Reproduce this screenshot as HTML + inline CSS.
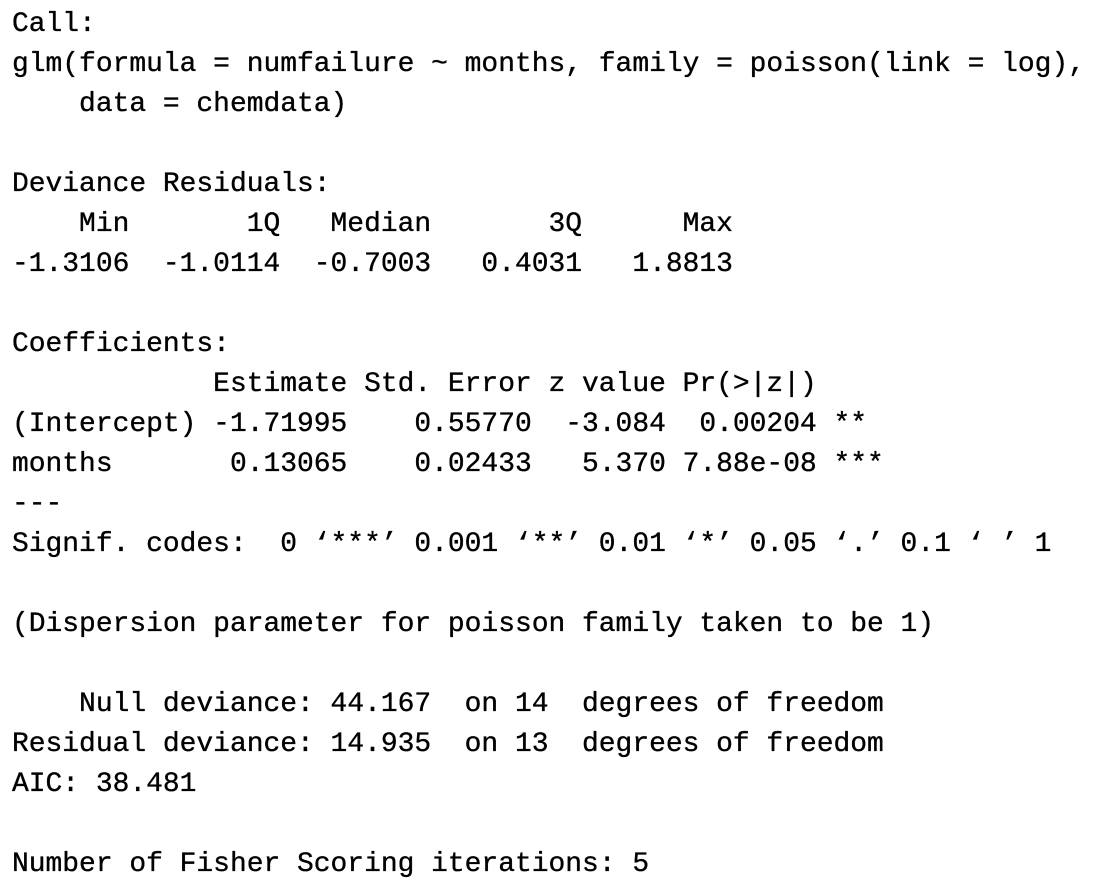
<!DOCTYPE html>
<html>
<head>
<meta charset="utf-8">
<style>
  html, body { margin: 0; padding: 0; background: #fff; }
  body { width: 1094px; height: 890px; overflow: hidden; }
  pre {
    margin: 0;
    position: absolute;
    left: 12px;
    top: 5px;
    font-family: "Liberation Mono", "DejaVu Sans Mono", monospace;
    font-size: 27.95px;
    line-height: 40px;
    color: #000;
    white-space: pre;
    -webkit-text-stroke: 0.35px #000;
  }
</style>
</head>
<body>
<pre>Call:
glm(formula = numfailure ~ months, family = poisson(link = log),
    data = chemdata)

Deviance Residuals:
    Min       1Q   Median       3Q      Max
-1.3106  -1.0114  -0.7003   0.4031   1.8813

Coefficients:
            Estimate Std. Error z value Pr(&gt;|z|)
(Intercept) -1.71995    0.55770  -3.084  0.00204 **
months       0.13065    0.02433   5.370 7.88e-08 ***
---
Signif. codes:  0 ‘***’ 0.001 ‘**’ 0.01 ‘*’ 0.05 ‘.’ 0.1 ‘ ’ 1

(Dispersion parameter for poisson family taken to be 1)

    Null deviance: 44.167  on 14  degrees of freedom
Residual deviance: 14.935  on 13  degrees of freedom
AIC: 38.481

Number of Fisher Scoring iterations: 5</pre>
</body>
</html>
